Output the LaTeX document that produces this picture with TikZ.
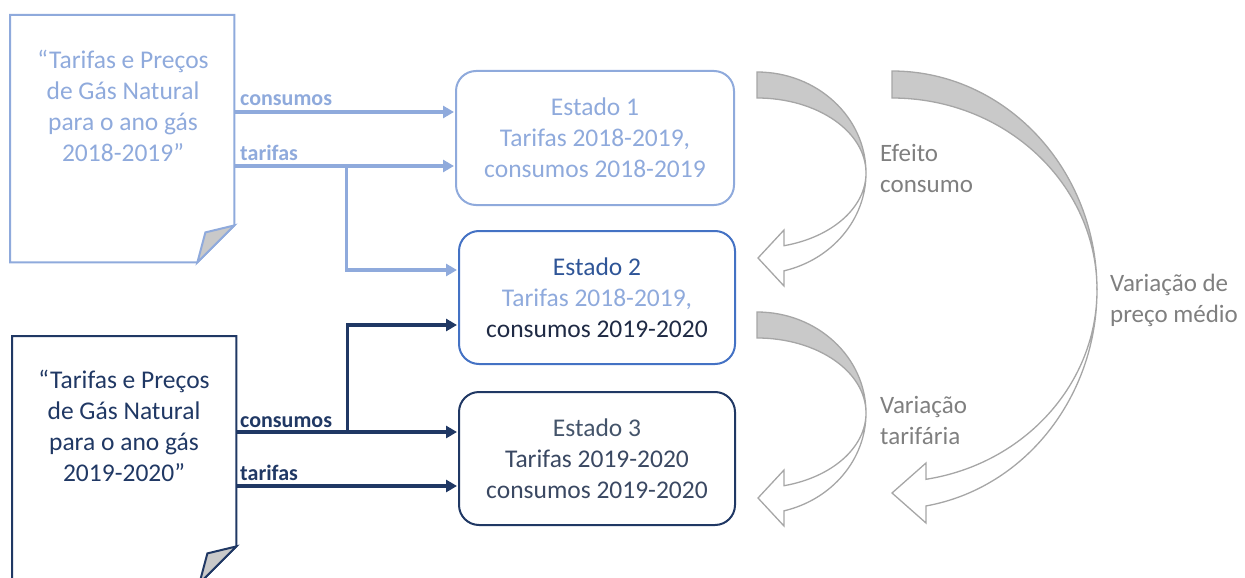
\documentclass[tikz,border=0pt]{standalone}
\usepackage{fontspec}
\setmainfont{Carlito}
\usetikzlibrary{arrows.meta,calc}
\definecolor{lblue}{HTML}{8FAADC}
\definecolor{mblue}{HTML}{4472C4}
\definecolor{navy}{HTML}{203864}
\definecolor{navyt}{HTML}{2F5597}
\definecolor{dtext}{HTML}{1F2A44}
\definecolor{slate}{HTML}{44546A}
\definecolor{slated}{HTML}{3A4862}
\definecolor{agray}{HTML}{A6A6A6}
\definecolor{afill}{HTML}{C9C9C9}
\definecolor{tgray}{HTML}{7F7F7F}
\begin{document}
\begin{tikzpicture}[x=1pt,y=-1pt,
 docbox/.style={minimum width=224pt,minimum height=247pt,anchor=north west,inner sep=0},
 state/.style={draw,line width=2pt,rounded corners=20pt,minimum width=276pt,minimum height=133pt,align=center,font=\fontsize{25.5}{31}\selectfont,inner sep=0},
 conn/.style={line width=3.4pt,-{Triangle[length=11pt,width=12pt]}},
 lbl/.style={font=\fontsize{22}{25}\selectfont\bfseries,anchor=base west,inner sep=0},
 doctext/.style={align=center,font=\fontsize{25.5}{31}\selectfont,inner sep=0},
 side/.style={align=left,anchor=west,text=tgray,font=\fontsize{25}{31}\selectfont,inner sep=0},
 upperband/.style={fill=afill,draw=agray,line width=1.3pt},
 lowerband/.style={fill=white,draw=agray,line width=1.3pt}]
\useasboundingbox (0,0) rectangle (1245,578);

% documents
\node[docbox] (doc1) at (10,15) {};
\draw[lblue,line width=2pt,line join=miter] (doc1.north west) -- (doc1.north east) -- ($(doc1.south east)+(0,-37)$) -- ($(doc1.south east)+(-37,0)$) -- (doc1.south west) -- cycle;
\draw[lblue,line width=2pt,fill=afill] ($(doc1.south east)+(0,-37)$) -- ($(doc1.south east)+(-29,-30)$) -- ($(doc1.south east)+(-37,0)$) -- cycle;
\node[doctext,text=lblue] (t1) at (123,106) {“Tarifas e Preços\\de Gás Natural\\para o ano gás\\2018-2019”};

\node[docbox] (doc2) at (12,336) {};
\draw[navy,line width=2pt,line join=miter] (doc2.north west) -- (doc2.north east) -- ($(doc2.south east)+(0,-37)$) -- ($(doc2.south east)+(-37,0)$) -- (doc2.south west) -- cycle;
\draw[navy,line width=2pt,fill=afill] ($(doc2.south east)+(0,-37)$) -- ($(doc2.south east)+(-29,-30)$) -- ($(doc2.south east)+(-37,0)$) -- cycle;
\node[doctext,text=navy] (t2) at (124,426) {“Tarifas e Preços\\de Gás Natural\\para o ano gás\\2019-2020”};

% states
\node[state,draw=lblue,minimum width=278pt,minimum height=134pt] (st1) at (595,138)
 {\textcolor{lblue}{Estado 1}\\\textcolor{lblue}{Tarifas 2018-2019,}\\\textcolor{lblue}{consumos 2018-2019}};
\node[state,draw=mblue] (st2) at (597,297.5)
 {\textcolor{navyt}{Estado 2}\\\textcolor{lblue}{Tarifas 2018-2019,}\\\textcolor{dtext}{consumos 2019-2020}};
\node[state,draw=navy] (st3) at (597,458.5)
 {\textcolor{slate}{Estado 3}\\\textcolor{slated}{Tarifas 2019-2020}\\\textcolor{slated}{consumos 2019-2020}};

% connectors
\coordinate (s1a) at ($(st1.west)+(-1,-26)$);
\coordinate (s1b) at ($(st1.west)+(-1,28)$);
\coordinate (s2a) at ($(st2.west)+(-1,-27.5)$);
\coordinate (s2b) at ($(st2.west)+(-1,27.5)$);
\coordinate (s3a) at ($(st3.west)+(-1,-26.5)$);
\coordinate (s3b) at ($(st3.west)+(-1,27.5)$);

\draw[conn,lblue] (doc1.east |- s1a) -- (s1a);
\draw[conn,lblue] (doc1.east |- s1b) -- (s1b);
\coordinate (j1) at ($(doc1.east |- s1b)+(112,0)$);
\draw[conn,lblue] (j1) |- (s2a);

\draw[conn,navy] (doc2.east |- s3a) -- (s3a);
\coordinate (j2) at ($(doc2.east |- s3a)+(111,0)$);
\draw[conn,navy] (j2) |- (s2b);
\draw[conn,navy] (doc2.east |- s3b) -- (s3b);

\node[lbl,text=lblue] (l1) at (240,106) {consumos};
\node[lbl,text=lblue] (l2) at (240,160) {tarifas};
\node[lbl,text=navy] (l3) at (240,427) {consumos};
\node[lbl,text=navy] (l4) at (240,480) {tarifas};

% curved arrows
\foreach \dy in {0,240} {
 \begin{scope}[shift={(0,\dy)}]
 \draw[lowerband,line join=miter] (866,173) arc[start angle=0,end angle=75.66,x radius=109,y radius=101]
   -- (784,286) -- (758,258) -- (784,230) -- (784,245.7)
   arc[start angle=75.66,end angle=0,x radius=109,y radius=75] -- cycle;
 \draw[upperband] (757,72) arc[start angle=-90,end angle=0,x radius=109,y radius=101]
   arc[start angle=0,end angle=-90,x radius=109,y radius=75] -- cycle;
 \end{scope}
}
\draw[lowerband,line join=miter] (1097,290) arc[start angle=0,end angle=80.45,x radius=205,y radius=219]
   -- (926,523) -- (892,493) -- (926,463) -- (926,479.3)
   arc[start angle=80.45,end angle=0,x radius=205,y radius=192] -- cycle;
\draw[upperband] (892,71) arc[start angle=-90,end angle=0,x radius=205,y radius=219]
   arc[start angle=0,end angle=-90,x radius=205,y radius=192] -- cycle;

\node[side] (e1) at (880,168) {Efeito\\consumo};
\node[side] (e2) at (880,420) {Variação\\tarifária};
\node[side] (e3) at (1110,300) {Variação de\\preço médio};
\end{tikzpicture}
\end{document}
